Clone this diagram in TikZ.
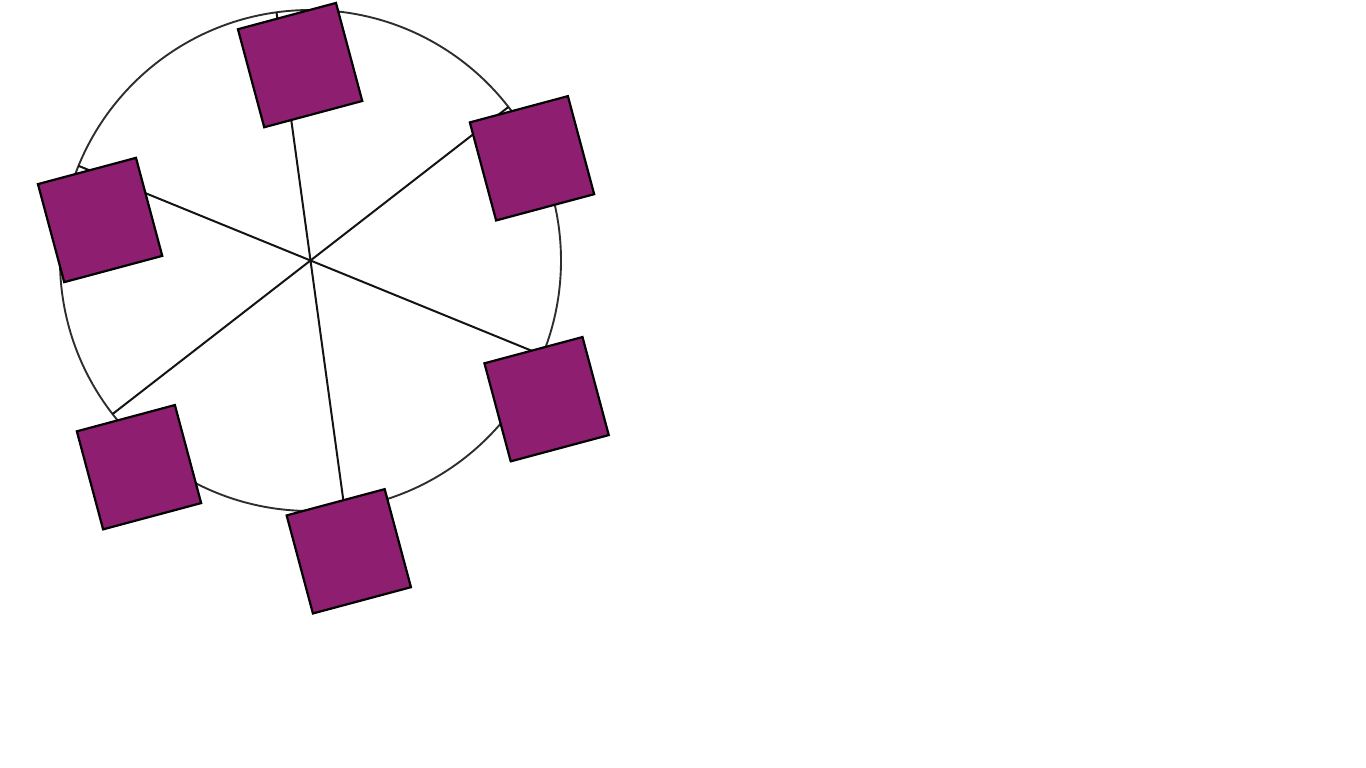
\documentclass[tikz,border=0pt]{standalone}
\usetikzlibrary{calc}
\definecolor{boxpurple}{RGB}{142,31,112}
\tikzset{
  sq/.style={draw=black, line width=2.2pt, fill=boxpurple, minimum size=101.5pt, inner sep=0pt, rotate=15},
  spoke/.style={draw=black!92, line width=2pt},
  ring/.style={draw=black!82, line width=1.9pt}
}
\begin{document}
\begin{tikzpicture}[x=1pt,y=1pt]
\useasboundingbox (0,0) rectangle (1366,-768);
\coordinate (c) at (310.5,-260.5);
\draw[ring] (c) circle[radius=250.5];
\foreach \a [count=\i] in {37.8,97.8,157.8,217.8,277.8,337.8}{
  \coordinate (p\i) at ($(c)+(\a:250.5)$);
}
\draw[spoke] (p1) -- (p4);
\draw[spoke] (p2) -- (p5);
\draw[spoke] (p3) -- (p6);
\node[sq] (s1) at (532,-158.3) {};
\node[sq] (s2) at (300.1,-65.1) {};
\node[sq] (s3) at (100.1,-220) {};
\node[sq] (s4) at (139,-467.2) {};
\node[sq] (s5) at (348.8,-551.3) {};
\node[sq] (s6) at (546.6,-399.2) {};
\end{tikzpicture}
\end{document}
